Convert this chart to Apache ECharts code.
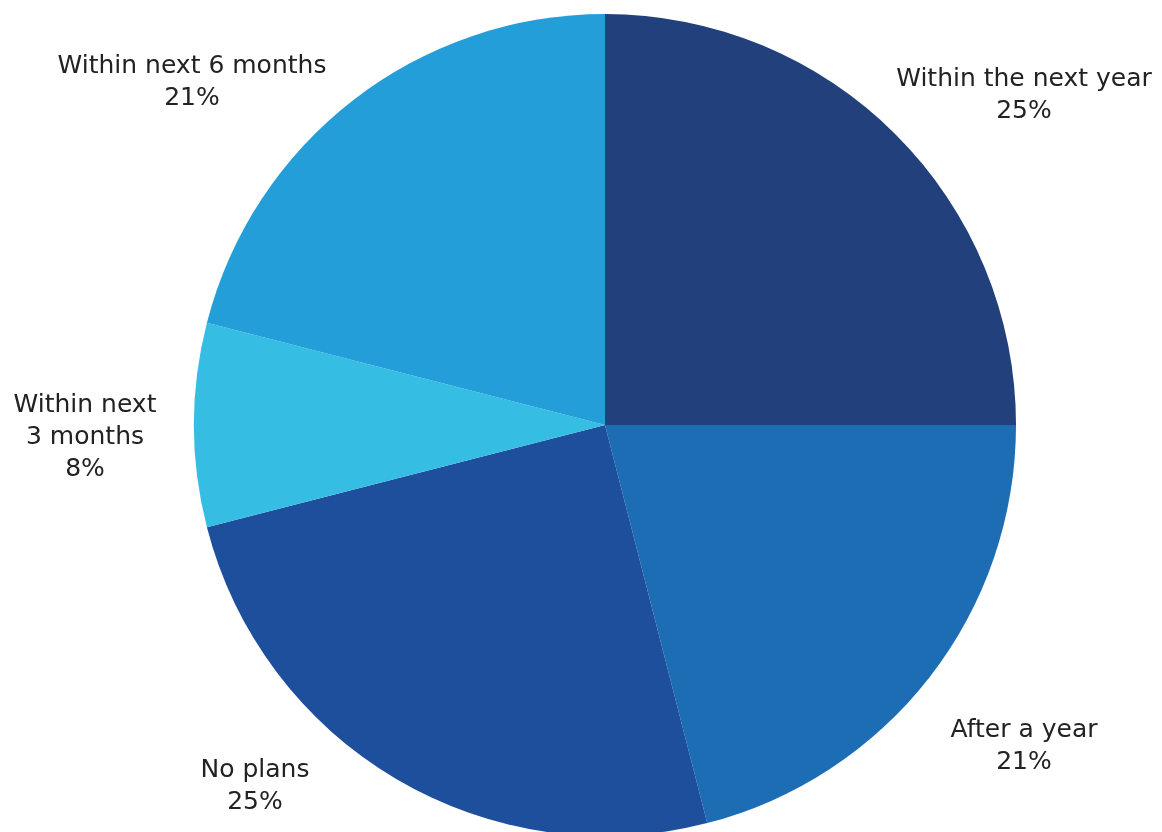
<!DOCTYPE html>
<html>
<head>
<meta charset="utf-8">
<title>Timing of plans</title>
<script src="https://cdn.jsdelivr.net/npm/echarts@6/dist/echarts.min.js"></script>
<style>
  html, body { margin: 0; padding: 0; background: #ffffff; }
  #chart { width: 1162px; height: 832px; }
</style>
</head>
<body>
<div id="chart"></div>
<script>
// Categories in clockwise order, starting at 12 o'clock
const categories = [
  'Within the next year',
  'After a year',
  'No plans',
  'Within next\n3 months',
  'Within next 6 months'
];
// Share of respondents, percent
const shares = [25, 21, 25, 8, 21];
const sliceColors = ['#21407c', '#1d6db4', '#1d4f9c', '#35bde3', '#239ed8'];

// Label block centres (px) next to each slice
const labelAnchors = [
  [1024, 95],
  [1024, 746],
  [255, 786],
  [85, 437],
  [192, 82]
];

const chart = echarts.init(document.getElementById('chart'), null, { renderer: 'canvas' });

chart.setOption({
  animation: false,
  backgroundColor: '#ffffff',
  series: [{
    type: 'pie',
    center: [605, 425],
    radius: [0, 411],
    startAngle: 90,
    clockwise: true,
    avoidLabelOverlap: false,
    data: categories.map((name, i) => ({
      name: name,
      value: shares[i],
      itemStyle: { color: sliceColors[i] }
    })),
    itemStyle: { borderWidth: 0 },
    emphasis: { disabled: true },
    label: {
      show: true,
      position: 'outside',
      formatter: p => p.name + '\n' + p.value + '%',
      fontFamily: 'DejaVu Sans, Open Sans, sans-serif',
      fontSize: 25,
      lineHeight: 32,
      color: '#222222',
      align: 'center'
    },
    labelLine: { show: false },
    labelLayout: params => ({
      x: labelAnchors[params.dataIndex][0],
      y: labelAnchors[params.dataIndex][1],
      align: 'center',
      verticalAlign: 'middle'
    })
  }]
});
</script>
</body>
</html>
